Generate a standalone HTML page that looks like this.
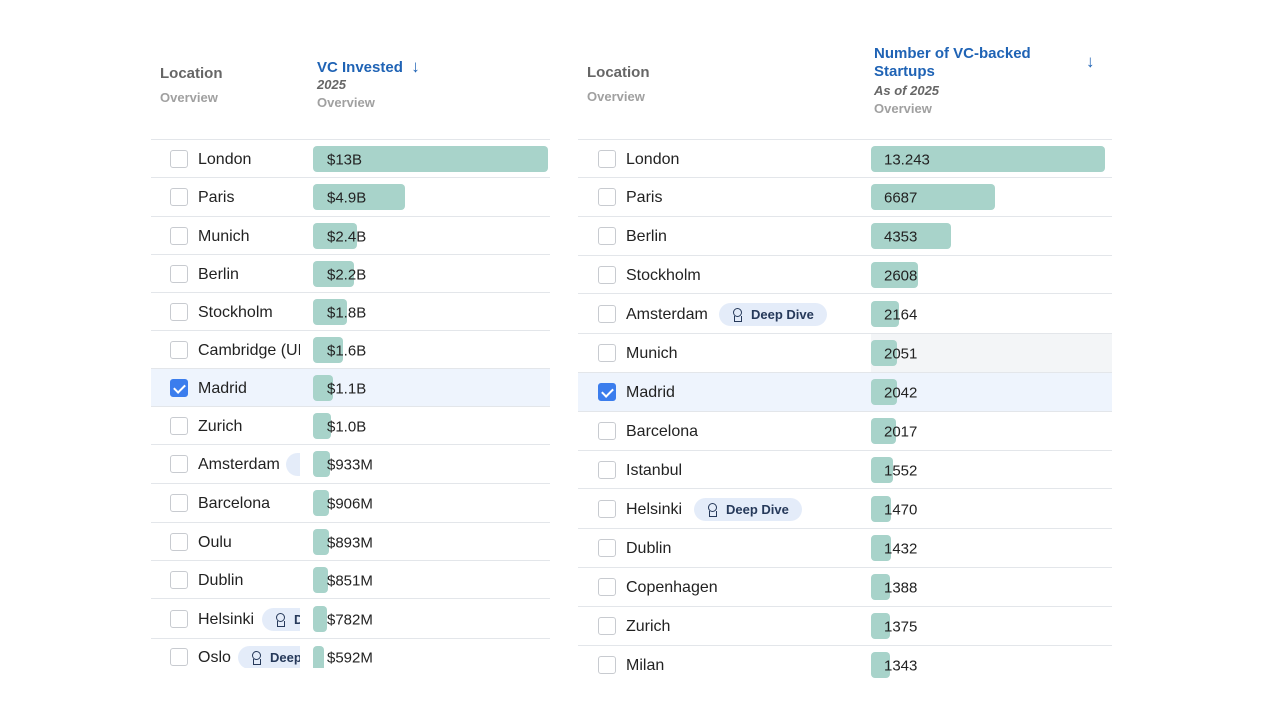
<!DOCTYPE html>
<html><head><meta charset="utf-8"><style>
*{box-sizing:border-box;margin:0;padding:0}
body{width:1280px;height:720px;background:#fff;font-family:"Liberation Sans",sans-serif;position:relative;overflow:hidden;color:#1f2328}
.a{position:absolute;white-space:nowrap}
.h{color:#666;font-size:15px;font-weight:bold}
.ov{color:#a0a0a0;font-size:13px;font-weight:bold}
.bl{color:#1f63b5;font-size:15px;font-weight:bold}
.it{color:#666;font-size:13px;font-style:italic;font-weight:bold}
.row{position:absolute;border-top:1px solid #e3e6ea}
.loc{position:absolute;left:0;top:0;bottom:0;overflow:hidden}
.cb{position:absolute;top:50%;margin-top:-9px;width:18px;height:18px;border:1px solid #c8cbd0;border-radius:3px;background:#fff}
.cb.on{background:#3b7ded;border-color:#3b7ded}
.cb.on:after{content:"";position:absolute;left:5px;top:2px;width:5px;height:9px;border:solid #fff;border-width:0 2px 2px 0;transform:rotate(45deg)}
.nm{position:absolute;top:50%;transform:translateY(-50%);margin-top:1px;font-size:16px;color:#222;white-space:nowrap}
.bar{position:absolute;top:50%;height:26px;margin-top:-13px;background:#a8d3ca;border-radius:4px}
.val{position:absolute;top:50%;transform:translateY(-50%);margin-top:1px;font-size:15px;color:#222}
.pill{position:absolute;top:50%;height:23px;margin-top:-11px;background:#e4ecf9;border-radius:12px;font-size:13px;font-weight:bold;color:#26395a;padding-left:32px;line-height:23px;width:108px;white-space:nowrap}
.pill:before{content:"";position:absolute;left:14px;top:5px;width:7px;height:7px;border:1.5px solid #26395a;border-radius:50%}
.pill:after{content:"";position:absolute;left:15px;top:13px;width:6px;height:5px;border:1.5px solid #26395a;border-top:none}
.L{left:151px;width:399px}
.L .loc{width:149px}.L .cb{left:19px}.L .nm{left:47px}.L .bar{left:162px}.L .val{left:176px}
.R{left:578px;width:534px}
.R .loc{width:292px}.R .cb{left:20px}.R .nm{left:48px}.R .bar{left:293px}.R .val{left:306px}
</style></head><body>
<div class="a h" style="left:160px;top:65px">Location</div>
<div class="a ov" style="left:160px;top:90px">Overview</div>
<div class="a bl" style="left:317px;top:57px">VC Invested &nbsp;<span style="font-size:17px">↓</span></div>
<div class="a it" style="left:317px;top:77px">2025</div>
<div class="a ov" style="left:317px;top:95px">Overview</div>

<div class="a h" style="left:587px;top:64px">Location</div>
<div class="a ov" style="left:587px;top:89px">Overview</div>
<div class="a bl" style="left:874px;top:45px;line-height:18px">Number of VC-backed<br>Startups</div>
<div class="a bl" style="left:1086px;top:52px;font-size:17px">↓</div>
<div class="a it" style="left:874px;top:83px">As of 2025</div>
<div class="a ov" style="left:874px;top:101px">Overview</div>

<!-- LEFT -->
<div class="row L" style="top:139px;height:38px"><div class="loc"><div class="cb"></div><div class="nm">London</div></div><div class="bar" style="width:235px"></div><div class="val">$13B</div></div>
<div class="row L" style="top:177px;height:39px"><div class="loc"><div class="cb"></div><div class="nm">Paris</div></div><div class="bar" style="width:92px"></div><div class="val">$4.9B</div></div>
<div class="row L" style="top:216px;height:38px"><div class="loc"><div class="cb"></div><div class="nm">Munich</div></div><div class="bar" style="width:44px"></div><div class="val">$2.4B</div></div>
<div class="row L" style="top:254px;height:38px"><div class="loc"><div class="cb"></div><div class="nm">Berlin</div></div><div class="bar" style="width:41px"></div><div class="val">$2.2B</div></div>
<div class="row L" style="top:292px;height:38px"><div class="loc"><div class="cb"></div><div class="nm">Stockholm</div></div><div class="bar" style="width:34px"></div><div class="val">$1.8B</div></div>
<div class="row L" style="top:330px;height:38px"><div class="loc"><div class="cb"></div><div class="nm">Cambridge (UK)</div></div><div class="bar" style="width:30px"></div><div class="val">$1.6B</div></div>
<div class="row L" style="top:368px;height:38px;background:#eef4fd"><div class="loc"><div class="cb on"></div><div class="nm">Madrid</div></div><div class="bar" style="width:20px"></div><div class="val">$1.1B</div></div>
<div class="row L" style="top:406px;height:38px"><div class="loc"><div class="cb"></div><div class="nm">Zurich</div></div><div class="bar" style="width:18px"></div><div class="val">$1.0B</div></div>
<div class="row L" style="top:444px;height:39px"><div class="loc"><div class="cb"></div><div class="nm">Amsterdam</div><div class="pill" style="left:135px">Deep Dive</div></div><div class="bar" style="width:17px"></div><div class="val">$933M</div></div>
<div class="row L" style="top:483px;height:39px"><div class="loc"><div class="cb"></div><div class="nm">Barcelona</div></div><div class="bar" style="width:16px"></div><div class="val">$906M</div></div>
<div class="row L" style="top:522px;height:38px"><div class="loc"><div class="cb"></div><div class="nm">Oulu</div></div><div class="bar" style="width:16px"></div><div class="val">$893M</div></div>
<div class="row L" style="top:560px;height:38px"><div class="loc"><div class="cb"></div><div class="nm">Dublin</div></div><div class="bar" style="width:15px"></div><div class="val">$851M</div></div>
<div class="row L" style="top:598px;height:40px"><div class="loc"><div class="cb"></div><div class="nm">Helsinki</div><div class="pill" style="left:111px">Deep Dive</div></div><div class="bar" style="width:14px"></div><div class="val">$782M</div></div>
<div class="row L" style="top:638px;height:30px;overflow:hidden"><div class="loc"><div class="cb" style="margin-top:-6px"></div><div class="nm" style="margin-top:4px">Oslo</div><div class="pill" style="left:87px;margin-top:-8px">Deep Dive</div></div><div class="bar" style="width:11px;margin-top:-8px"></div><div class="val" style="margin-top:4px">$592M</div></div>

<!-- RIGHT -->
<div class="row R" style="top:139px;height:38px"><div class="loc"><div class="cb"></div><div class="nm">London</div></div><div class="bar" style="width:234px"></div><div class="val">13.243</div></div>
<div class="row R" style="top:177px;height:39px"><div class="loc"><div class="cb"></div><div class="nm">Paris</div></div><div class="bar" style="width:124px"></div><div class="val">6687</div></div>
<div class="row R" style="top:216px;height:39px"><div class="loc"><div class="cb"></div><div class="nm">Berlin</div></div><div class="bar" style="width:80px"></div><div class="val">4353</div></div>
<div class="row R" style="top:255px;height:38px"><div class="loc"><div class="cb"></div><div class="nm">Stockholm</div></div><div class="bar" style="width:47px"></div><div class="val">2608</div></div>
<div class="row R" style="top:293px;height:40px"><div class="loc"><div class="cb"></div><div class="nm">Amsterdam</div><div class="pill" style="left:141px">Deep Dive</div></div><div class="bar" style="width:28px"></div><div class="val">2164</div></div>
<div class="row R" style="top:333px;height:39px;background:linear-gradient(90deg,#fff 293px,#f3f5f7 293px)"><div class="loc"><div class="cb"></div><div class="nm">Munich</div></div><div class="bar" style="width:26px"></div><div class="val">2051</div></div>
<div class="row R" style="top:372px;height:39px;background:#eef4fd"><div class="loc"><div class="cb on"></div><div class="nm">Madrid</div></div><div class="bar" style="width:26px"></div><div class="val">2042</div></div>
<div class="row R" style="top:411px;height:39px"><div class="loc"><div class="cb"></div><div class="nm">Barcelona</div></div><div class="bar" style="width:25px"></div><div class="val">2017</div></div>
<div class="row R" style="top:450px;height:38px"><div class="loc"><div class="cb"></div><div class="nm">Istanbul</div></div><div class="bar" style="width:22px"></div><div class="val">1552</div></div>
<div class="row R" style="top:488px;height:40px"><div class="loc"><div class="cb"></div><div class="nm">Helsinki</div><div class="pill" style="left:116px">Deep Dive</div></div><div class="bar" style="width:20px"></div><div class="val">1470</div></div>
<div class="row R" style="top:528px;height:39px"><div class="loc"><div class="cb"></div><div class="nm">Dublin</div></div><div class="bar" style="width:20px"></div><div class="val">1432</div></div>
<div class="row R" style="top:567px;height:39px"><div class="loc"><div class="cb"></div><div class="nm">Copenhagen</div></div><div class="bar" style="width:19px"></div><div class="val">1388</div></div>
<div class="row R" style="top:606px;height:39px"><div class="loc"><div class="cb"></div><div class="nm">Zurich</div></div><div class="bar" style="width:19px"></div><div class="val">1375</div></div>
<div class="row R" style="top:645px;height:38px"><div class="loc"><div class="cb"></div><div class="nm">Milan</div></div><div class="bar" style="width:19px"></div><div class="val">1343</div></div>
</body></html>
